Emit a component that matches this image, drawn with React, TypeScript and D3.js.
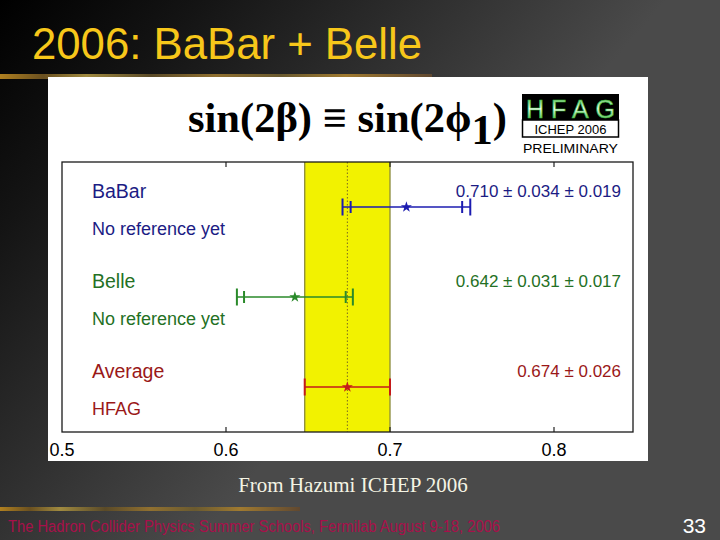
import React from "react";
import * as d3 from "d3";

const experiments = ["BaBar", "Belle", "Average"];
const subLabels = ["No reference yet", "No reference yet", "HFAG"];
const centralValues = [0.71, 0.642, 0.674];
const statErrors = [0.034, 0.031, 0.026];
const systErrors = [0.019, 0.017, 0];
const valueLabels = ["0.710 ± 0.034 ± 0.019", "0.642 ± 0.031 ± 0.017", "0.674 ± 0.026"];
const textColors = ["#1c1c84", "#247024", "#9a1818"];
const lineColors = ["#1c1cb0", "#2a8a2a", "#c41a1a"];
const xTicks = [0.5, 0.6, 0.7, 0.8];
const averageValue = 0.674;
const averageError = 0.026;

export default function App() {
  const W = 720, H = 540;
  const frame = { left: 62, right: 633, top: 162, bottom: 432 };
  const x = d3.scaleLinear().domain([0.5, 0.5 + (frame.right - frame.left) / 1640]).range([frame.left, frame.right]);
  const y = d3.scalePoint<string>().domain(experiments).range([207, 387]);
  const star = d3.symbol().type(d3.symbolStar).size(38)() as string;
  const sans = "Liberation Sans, Arial, Helvetica, sans-serif";
  const serif = "Liberation Serif, Times New Roman, serif";

  return (
    <svg width={W} height={H} style={{ position: "absolute", left: 0, top: 0 }}>
      <defs>
        <linearGradient id="bg" gradientUnits="userSpaceOnUse" x1="0" y1="0" x2="380" y2="330">
          <stop offset="0" stopColor="#000" />
          <stop offset="0.3" stopColor="#141414" />
          <stop offset="1" stopColor="#4a4a4a" />
        </linearGradient>
        <linearGradient id="stripe" x1="0" x2="1" y1="0" y2="0">
          <stop offset="0" stopColor="#b08020" />
          <stop offset="0.1" stopColor="#6a5020" />
          <stop offset="0.2" stopColor="#a08a40" />
          <stop offset="0.35" stopColor="#5a4a28" />
          <stop offset="0.5" stopColor="#907030" />
          <stop offset="0.65" stopColor="#6a5a30" />
          <stop offset="0.8" stopColor="#a07a30" />
          <stop offset="1" stopColor="#604830" />
        </linearGradient>
        <linearGradient id="hfag" x1="0" x2="0" y1="0" y2="1">
          <stop offset="0" stopColor="#2aa82a" />
          <stop offset="0.5" stopColor="#f0fff0" />
          <stop offset="1" stopColor="#2aa82a" />
        </linearGradient>
      </defs>
      <rect x={0} y={0} width={W} height={H} fill="url(#bg)" />
      <rect x={0} y={74} width={432} height={5} fill="url(#stripe)" />
      <rect x={0} y={507} width={300} height={4} fill="url(#stripe)" />

      <text x={32} y={59} fill="#f7c71a" fontFamily={sans} fontSize={45} textLength={390} lengthAdjust="spacingAndGlyphs">
        2006: BaBar + Belle
      </text>

      {/* white image */}
      <rect x={48} y={77} width={600} height={384} fill="#fff" />

      {/* formula */}
      <text x={188} y={132} fontFamily={serif} fontWeight="bold" fontSize={42} fill="#000" textLength={319} lengthAdjust="spacingAndGlyphs">
        sin(2β) ≡ sin(2ϕ<tspan dy={12}>1</tspan><tspan dy={-12}>)</tspan>
      </text>

      {/* HFAG logo */}
      <rect x={522} y={94} width={97} height={26} fill="#000" />
      <text x={526} y={117.5} fontFamily={sans} fontSize={25} fill="url(#hfag)" stroke="#39c039" strokeWidth={0.6} textLength={89} lengthAdjust="spacing">
        HFAG
      </text>
      <rect x={522.5} y={120} width={96} height={17} fill="#fff" stroke="#000" strokeWidth={1.5} />
      <text x={570.5} y={134} textAnchor="middle" fontFamily={sans} fontSize={13} fill="#000">
        ICHEP 2006
      </text>
      <text x={570.5} y={152.5} textAnchor="middle" fontFamily={sans} fontSize={13} fill="#000" textLength={95} lengthAdjust="spacingAndGlyphs">
        PRELIMINARY
      </text>

      {/* yellow average band */}
      <rect
        x={x(averageValue - averageError)}
        y={frame.top}
        width={x(averageValue + averageError) - x(averageValue - averageError)}
        height={frame.bottom - frame.top}
        fill="#f2f200"
      />
      {[averageValue - averageError, averageValue + averageError].map((v, i) => (
        <line key={i} x1={x(v)} x2={x(v)} y1={frame.top} y2={frame.bottom} stroke="#8a8a3a" strokeWidth={1.3} />
      ))}
      <line x1={x(averageValue)} x2={x(averageValue)} y1={frame.top} y2={frame.bottom} stroke="#7a6a20" strokeWidth={1} strokeDasharray="1.5,2" />

      {/* frame ticks */}
      {xTicks.slice(1).map((t) => (
        <g key={t}>
          <line x1={x(t)} x2={x(t)} y1={frame.top} y2={frame.top + 5} stroke="#222" strokeWidth={1.2} />
          <line x1={x(t)} x2={x(t)} y1={frame.bottom} y2={frame.bottom - 5} stroke="#222" strokeWidth={1.2} />
        </g>
      ))}
      <rect x={frame.left} y={frame.top} width={frame.right - frame.left} height={frame.bottom - frame.top} fill="none" stroke="#1a1a1a" strokeWidth={1.3} />

      {xTicks.map((t) => (
        <text key={t} x={x(t)} y={456} textAnchor="middle" fontFamily={sans} fontSize={18} fill="#000">
          {t.toFixed(1)}
        </text>
      ))}

      {/* measurements */}
      {experiments.map((e, i) => {
        const yy = y(e) as number;
        const c = centralValues[i];
        const tot = Math.sqrt(statErrors[i] ** 2 + systErrors[i] ** 2);
        const col = lineColors[i];
        return (
          <g key={e}>
            <line x1={x(c - tot)} x2={x(c + tot)} y1={yy} y2={yy} stroke={col} strokeWidth={1.5} />
            {[c - tot, c + tot].map((v, k) => (
              <line key={"o" + k} x1={x(v)} x2={x(v)} y1={yy - 8.5} y2={yy + 8.5} stroke={col} strokeWidth={2} />
            ))}
            {systErrors[i] > 0 &&
              [c - statErrors[i], c + statErrors[i]].map((v, k) => (
                <line key={"i" + k} x1={x(v)} x2={x(v)} y1={yy - 6} y2={yy + 6} stroke={col} strokeWidth={2} />
              ))}
            <path d={star} transform={`translate(${x(c)},${yy})`} fill={col} />
            <text x={92} y={yy - 9} fontFamily={sans} fontSize={19.5} fill={textColors[i]}>
              {e}
            </text>
            <text x={92} y={yy + 28} fontFamily={sans} fontSize={18} fill={textColors[i]}>
              {subLabels[i]}
            </text>
            <text x={621} y={yy - 10} textAnchor="end" fontFamily={sans} fontSize={17} fill={textColors[i]}>
              {valueLabels[i]}
            </text>
          </g>
        );
      })}

      <text x={353} y={492} textAnchor="middle" fontFamily={serif} fontSize={21} fill="#f4f4e4">
        From Hazumi ICHEP 2006
      </text>
      <text x={8} y={532} fontFamily={sans} fontSize={16} fill="#a8104a" textLength={492} lengthAdjust="spacingAndGlyphs">
        The Hadron  Collider  Physics Summer Schools,     Fermilab  August 9-18, 2006
      </text>
      <text x={706} y={533} textAnchor="end" fontFamily={sans} fontSize={21} fill="#fff">
        33
      </text>
    </svg>
  );
}
